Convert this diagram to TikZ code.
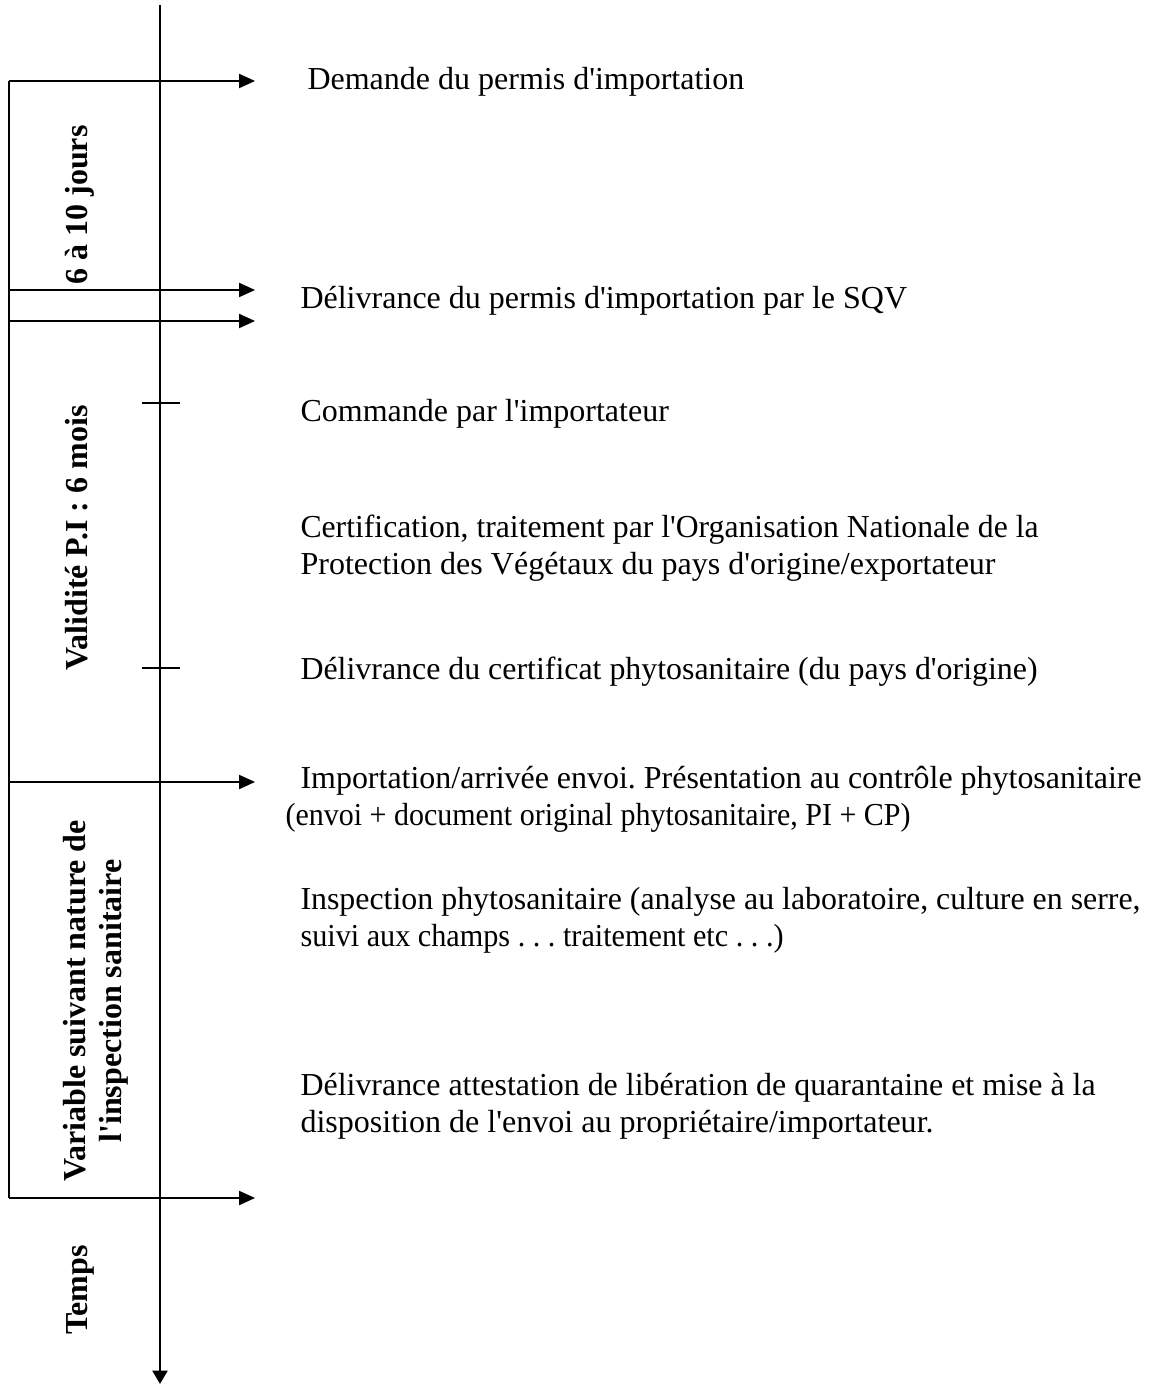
\documentclass[tikz,border=0pt]{standalone}
\usepackage{fontspec}
\setmainfont{Liberation Serif}[Ligatures=TeXOff]
\usetikzlibrary{arrows.meta}
\frenchspacing
\newdimen\pxu \pxu=0.375pt
\newcommand{\fitline}[2]{\resizebox{#1\pxu}{\height}{#2}}
\begin{document}
\begin{tikzpicture}[x=0.375pt,y=-0.375pt,
  axisline/.style={line width=0.95pt},
  thinline/.style={line width=0.65pt},
  arr/.style={thinline,-{Triangle[length=6pt,width=5.3pt]}},
  txt/.style={anchor=base west,inner sep=0pt,font=\fontsize{12pt}{14pt}\selectfont\frenchspacing},
  side/.style={rotate=90,inner sep=0pt,font=\fontsize{12pt}{13.5pt}\selectfont\bfseries\frenchspacing,align=center}]
\useasboundingbox (0,0) rectangle (1153,1385);

% axis
\coordinate (top) at (160,5);
\coordinate (bot) at (160,1384);
\draw[axisline,-{Triangle[length=5pt,width=5.6pt]}] (top) -- (bot);

% left bracket line and arrows
\coordinate (L1) at (9,81);    \coordinate (R1) at (255,81);
\coordinate (L2) at (9,290);   \coordinate (R2) at (255,290);
\coordinate (L3) at (9,321);   \coordinate (R3) at (255,321);
\coordinate (L4) at (9,782);   \coordinate (R4) at (255,782);
\coordinate (L5) at (9,1198);  \coordinate (R5) at (255,1198);
\draw[thinline] (L1) -- (L5);
\draw[arr] (L1) -- (R1);
\draw[arr] (L2) -- (R2);
\draw[arr] (L3) -- (R3);
\draw[arr] (L4) -- (R4);
\draw[arr] (L5) -- (R5);

% ticks
\coordinate (K1a) at (142,403); \coordinate (K1b) at (180,403);
\coordinate (K2a) at (142,668); \coordinate (K2b) at (180,668);
\draw[thinline] (K1a) -- (K1b);
\draw[thinline] (K2a) -- (K2b);

% side labels
\node[side,anchor=base] (s1) at (87,205) {6 à 10 jours};
\node[side,anchor=base] (s2) at (87,538) {Validité P.I : 6 mois};
\node[side,anchor=center] (s3) at (96,1001) {Variable suivant nature de\\l'inspection sanitaire};
\node[side,anchor=base] (s4) at (87,1290) {Temps};

% step texts
\node[txt] (t1) at (307,90) {Demande du permis d'importation};
\node[txt] (t2) at (300,309) {Délivrance du permis d'importation par le SQV};
\node[txt] (t3) at (300,422) {Commande par l'importateur};
\node[txt] (t4a) at (300,538) {\fitline{738}{Certification, traitement par l'Organisation Nationale de la}};
\node[txt] (t4b) at (300,575) {\fitline{695}{Protection des Végétaux du pays d'origine/exportateur}};
\node[txt] (t5) at (300,679) {\fitline{737}{Délivrance du certificat phytosanitaire (du pays d'origine)}};
\node[txt] (t6a) at (300,788) {\fitline{841}{Importation/arrivée envoi. Présentation au contrôle phytosanitaire}};
\node[txt] (t6b) at (285,825) {\fitline{625}{(envoi + document original phytosanitaire, PI + CP)}};
\node[txt] (t7a) at (300,909) {\fitline{840}{Inspection phytosanitaire (analyse au laboratoire, culture en serre,}};
\node[txt] (t7b) at (300,946) {\fitline{483}{suivi aux champs . . . traitement etc . . .)}};
\node[txt] (t8a) at (300,1095) {\fitline{795}{Délivrance attestation de libération de quarantaine et mise à la}};
\node[txt] (t8b) at (300,1132) {\fitline{633}{disposition de l'envoi au propriétaire/importateur.}};
\end{tikzpicture}
\end{document}
